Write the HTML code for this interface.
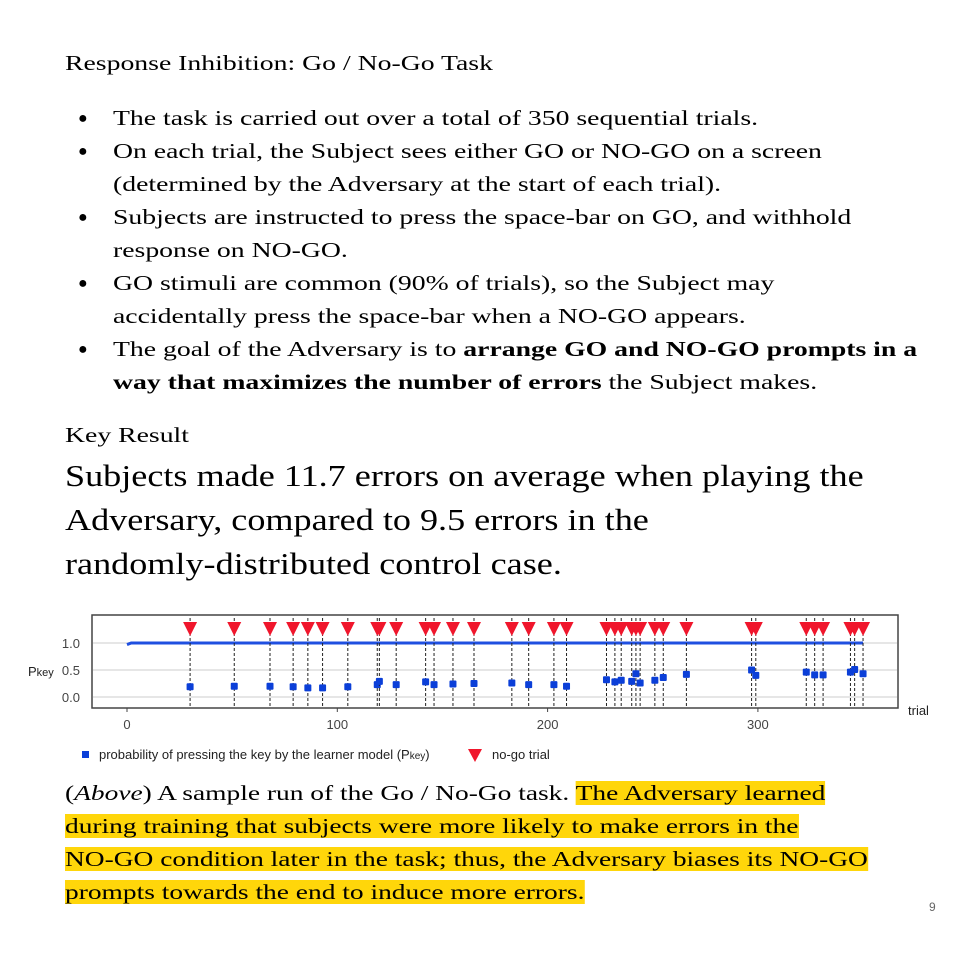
<!DOCTYPE html>
<html><head><meta charset="utf-8"><style>
body{margin:0;background:#fff;}
#page{position:relative;width:960px;height:960px;overflow:hidden;font-family:"Liberation Serif",serif;color:#000;}
.t{position:absolute;white-space:nowrap;transform-origin:0 0;}
ul{position:absolute;left:65px;top:102px;margin:0;padding:0;list-style:none;font-size:21px;line-height:33px;}
li{position:relative;padding-left:48px;white-space:nowrap;}
li span.s{display:inline-block;transform:scaleX(1.32);transform-origin:0 0;}
li:before{content:"●";position:absolute;left:13px;font-size:16px;}
.hl{background:#ffd60a;}
</style></head><body>
<div id="page">
<div class="t" style="left:65px;top:51px;font-size:21px;transform:scaleX(1.32);">Response Inhibition: Go / No-Go Task</div>
<ul>
<li><span class="s">The task is carried out over a total of 350 sequential trials.</span></li>
<li><span class="s">On each trial, the Subject sees either GO or NO-GO on a screen<br>(determined by the Adversary at the start of each trial).</span></li>
<li><span class="s">Subjects are instructed to press the space-bar on GO, and withhold<br>response on NO-GO.</span></li>
<li><span class="s">GO stimuli are common (90% of trials), so the Subject may<br>accidentally press the space-bar when a NO-GO appears.</span></li>
<li><span class="s">The goal of the Adversary is to <b>arrange GO and NO-GO prompts in a<br>way that maximizes the number of errors</b> the Subject makes.</span></li>
</ul>
<div class="t" style="left:65px;top:423px;font-size:21px;transform:scaleX(1.32);">Key Result</div>
<div class="t" style="left:65px;top:454px;font-size:31px;line-height:44px;transform:scaleX(1.166);">Subjects made 11.7 errors on average when playing the<br>Adversary, compared to 9.5 errors in the<br>randomly-distributed control case.</div>
<svg id="chart" width="960" height="780" style="position:absolute;left:0;top:0;font-family:'Liberation Sans',sans-serif;"></svg>
<div class="t" style="left:65px;top:777px;font-size:21px;line-height:33px;transform:scaleX(1.306);">(<i>Above</i>) A sample run of the Go / No-Go task. <span class="hl">The Adversary learned</span><br><span class="hl">during training that subjects were more likely to make errors in the</span><br><span class="hl">NO-GO condition later in the task; thus, the Adversary biases its NO-GO</span><br><span class="hl">prompts towards the end to induce more errors.</span></div>
<div class="t" style="left:929px;top:900px;font-size:12px;color:#666;font-family:'Liberation Sans',sans-serif;">9</div>
</div>
<script>
const noGoTrials=[30,51,68,79,86,93,105,119,120,128,142,146,155,165,183,191,203,209,228,232,235,240,242,244,251,255,266,297,299,323,327,331,344,346,350];
const noGoPkey=[0.19,0.2,0.2,0.19,0.17,0.17,0.19,0.23,0.29,0.23,0.28,0.23,0.24,0.25,0.26,0.23,0.23,0.2,0.32,0.28,0.31,0.29,0.43,0.26,0.31,0.36,0.42,0.5,0.4,0.46,0.41,0.41,0.46,0.51,0.43];
const goTrials=[0,2,350];
const goPkey=[0.97,1.0,1.0];
const yTicks=[0,0.5,1.0];
const yTickLabels=["0.0","0.5","1.0"];
const xTicks=[0,100,200,300];
const xTickLabels=["0","100","200","300"];
const NS="http://www.w3.org/2000/svg";
const svg=document.getElementById('chart');
const X=v=>127+v*2.103, Y=v=>697-v*54;
function mk(tag,attrs,parent){const e=document.createElementNS(NS,tag);for(const k in attrs)e.setAttribute(k,attrs[k]);(parent||svg).appendChild(e);return e;}
yTicks.forEach((t,i)=>{
 const g=mk('line',{x1:93,x2:897,y1:Y(t),y2:Y(t),stroke:'#e6e6e6','stroke-width':2});
 
 
 const l=mk('text',{x:80,y:Y(t)+5,'text-anchor':'end','font-size':13,fill:'#444'});l.textContent=yTickLabels[i];
 
 
});
xTicks.forEach((t,i)=>{
 mk('line',{x1:X(t),x2:X(t),y1:708,y2:712,stroke:'#444'});
 const l=mk('text',{x:X(t),y:729,'text-anchor':'middle','font-size':13,fill:'#444'});l.textContent=xTickLabels[i];
 
 
});
const yt=mk('text',{x:28,y:676,'font-size':13,fill:'#222'});yt.innerHTML='P<tspan font-size="11">key</tspan>';


const xt=mk('text',{x:908,y:715,'font-size':13,fill:'#222'});xt.textContent='trial';


const pts=goTrials.map((t,i)=>X(t)+','+Y(goPkey[i])).join(' ');
const gl=mk('polyline',{points:pts,fill:'none',stroke:'#1f4fe0','stroke-width':3});


noGoTrials.forEach((t,i)=>{
 const x=X(t);
 const d=mk('line',{x1:x,x2:x,y1:618,y2:708,stroke:'#222','stroke-width':1,'stroke-dasharray':'3,2'});
 
 
 const tri=mk('polygon',{points:`${x-7},622 ${x+7},622 ${x},636`,fill:'#f0162c'});
 
 
 const y=Y(noGoPkey[i]);
 const s=mk('rect',{x:x-3.5,y:y-3.5,width:7,height:7,fill:'#0b3fd8',rx:1});
 
 
});
const box=mk('rect',{x:92,y:615,width:806,height:93,fill:'none',stroke:'#444','stroke-width':1.5});


const ls=mk('rect',{x:82,y:751,width:7,height:7,fill:'#0b3fd8'});


const lt=mk('text',{x:99,y:759,'font-size':13,fill:'#222'});lt.innerHTML='probability of pressing the key by the learner model (P<tspan font-size="10">key</tspan>)';


const lt2=mk('polygon',{points:'468,749 482,749 475,762',fill:'#f0162c'});


const lt3=mk('text',{x:492,y:759,'font-size':13,fill:'#222'});lt3.textContent='no-go trial';


</script>
</body></html>
